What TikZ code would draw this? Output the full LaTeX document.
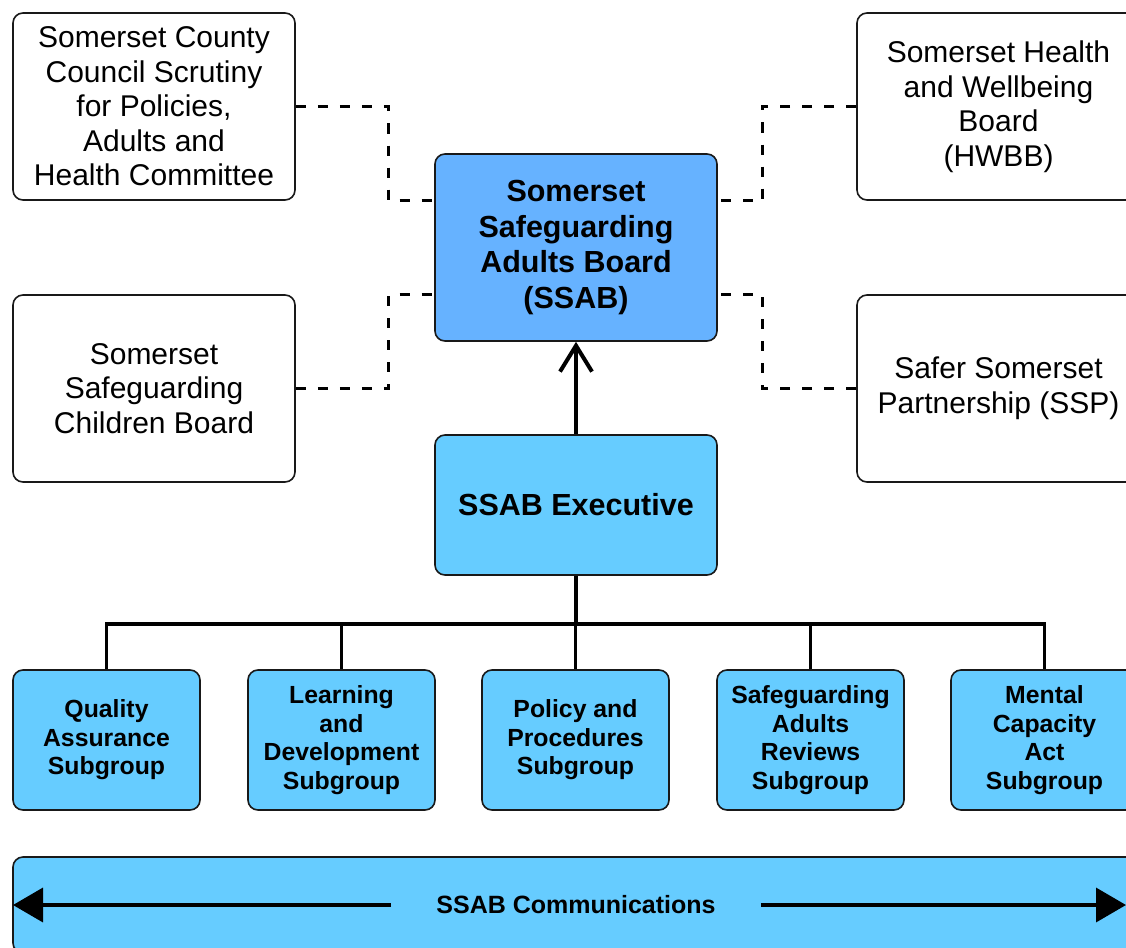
\documentclass[tikz,border=0pt]{standalone}
\usepackage{fontspec}
\setmainfont{Liberation Sans}
\usetikzlibrary{arrows.meta,calc}

\definecolor{boardblue}{HTML}{66B2FF}
\definecolor{groupblue}{HTML}{66CCFF}

\tikzset{
  partner/.style={draw=black!90, line width=1.6pt, rounded corners=10pt, fill=white,
    align=center, inner sep=0pt, minimum width=282pt, minimum height=187pt,
    font=\fontsize{30}{34.5}\selectfont},
  board/.style={partner, fill=boardblue, font=\fontsize{30.5}{35.5}\selectfont\bfseries},
  exec/.style={partner, fill=groupblue, minimum height=140pt, font=\fontsize{30.5}{35}\selectfont\bfseries},
  subgroup/.style={partner, fill=groupblue, minimum width=187pt, minimum height=140pt,
    font=\fontsize{24.8}{28.6}\selectfont\bfseries},
  dashline/.style={line width=3.3pt, dash pattern=on 10pt off 12pt},
  treeline/.style={line width=3.5pt},
}

\begin{document}
\begin{tikzpicture}[x=1pt, y=-1pt]
			%%%%% START %%%%%
			\useasboundingbox (0, 0) rectangle (1126, 947);
			
			\node[partner] (scc) at (154, 106.5) {Somerset County\\Council Scrutiny\\for Policies,\\Adults and\\Health Committee};
			\node[partner] (scb) at (154, 388.5) {Somerset\\Safeguarding\\Children Board};
			\node[partner, minimum width=283pt] (hwbb) at (998.5, 106.5) {Somerset Health\\and Wellbeing\\Board\\(HWBB)};
			\node[partner, minimum width=283pt] (ssp) at (998.5, 388.5) {Safer Somerset\\Partnership (SSP)};
			
			\node[board] (ssab) at (576, 247.5) {Somerset\\Safeguarding\\Adults Board\\(SSAB)};
			\node[exec] (ssabexec) at (576, 505) {SSAB Executive};
			
			\node[subgroup] (qa) at (106.5, 740) {Quality\\Assurance\\Subgroup};
			\node[subgroup] (ld) at (341.5, 740) {Learning\\and\\Development\\Subgroup};
			\node[subgroup] (pp) at (575.5, 740) {Policy and\\Procedures\\Subgroup};
			\node[subgroup] (sar) at (810.5, 740) {Safeguarding\\Adults\\Reviews\\Subgroup};
			\node[subgroup] (mca) at (1044.5, 740) {Mental\\Capacity\\Act\\Subgroup};
			
			\node[partner, fill=groupblue, minimum width=1127pt, minimum height=96pt] (comm) at (576.5, 905) {};
			\node[font=\fontsize{25}{29}\selectfont\bfseries, inner xsep=45pt] (commtext) at (576, 905) {SSAB Communications};
			\coordinate (commleft) at (13, 905);
			\coordinate (commright) at (1126, 905);
			
			% dashed partner links
			\draw[dashline] (scc.east) -- ++(93, 0) |- (ssab.west |- scc.south);
			\draw[dashline] (scb.east) -- ++(93, 0) |- (ssab.west |- scb.north);
			\draw[dashline] (hwbb.west) -- ++(-94, 0) |- (ssab.east |- hwbb.south);
			\draw[dashline] (ssp.west) -- ++(-94, 0) |- (ssab.east |- ssp.north);
			
			% executive reports to the board
			\draw[treeline, -{Straight Barb[length=26pt, width=32pt, line width=4pt]}] (ssabexec.north) -- (ssab.south);
			
			% subgroup tree
			\draw[treeline] (ssabexec.south) -- ++(0, 48) coordinate (bus);
			\draw[treeline] (qa.north) |- (bus);
			\draw[treeline] (ld.north) |- (bus);
			\draw[treeline] (pp.north) |- (bus);
			\draw[treeline] (sar.north) |- (bus);
			\draw[treeline] (mca.north) |- (bus);
			
			% communications run both ways
			\draw[treeline, -{Triangle[length=30pt, width=34pt]}] (commtext) -- (commleft);
			\draw[treeline, -{Triangle[length=30pt, width=34pt]}] (commtext) -- (commright);
			
			%%%%% END %%%%%
		\end{tikzpicture}
\end{document}
